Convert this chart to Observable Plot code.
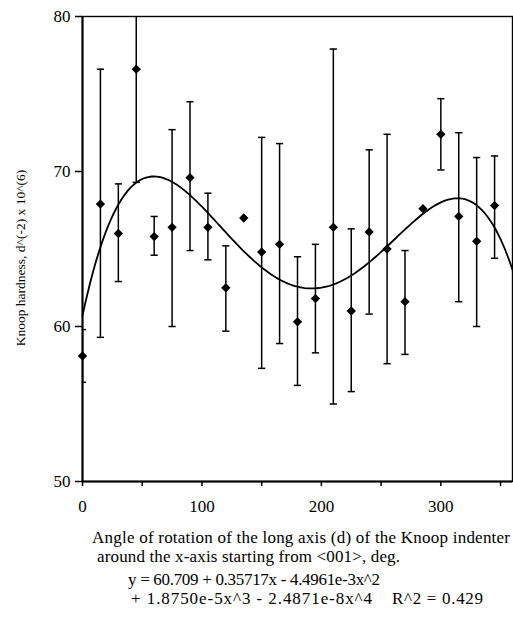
<!DOCTYPE html>
<html>
<head>
<meta charset="utf-8">
<script src="https://cdn.jsdelivr.net/npm/d3@7"></script>
<script src="https://cdn.jsdelivr.net/npm/@observablehq/plot@0.6"></script>
<style>
  html, body { margin: 0; padding: 0; background: #fff; }
  #wrap { width: 513px; height: 620px; background: #fff; overflow: hidden; }
  #wrap svg { display: block; }
</style>
</head>
<body>
<div id="wrap"></div>
<script>
// Measurement angles (deg)
const angles = [0, 15, 30, 45, 60, 75, 90, 105, 120, 135, 150, 165, 180, 195, 210, 225, 240, 255, 270, 285, 300, 315, 330, 345];
// Mean Knoop hardness
const hardness = [58.1, 67.9, 66.0, 76.6, 65.8, 66.4, 69.6, 66.4, 62.5, 67.0, 64.8, 65.3, 60.3, 61.8, 66.4, 61.0, 66.1, 65.0, 61.6, 67.6, 72.4, 67.1, 65.5, 67.8];
// Error bar lower / upper limits (null = no bar)
const errLow  = [56.4, 59.3, 62.9, 69.3, 64.6, 60.0, 64.9, 64.3, 59.7, null, 57.3, 58.9, 56.2, 58.3, 55.0, 55.8, 60.8, 57.6, 58.2, null, 70.1, 61.6, 60.0, 64.4];
const errHigh = [59.8, 76.6, 69.2, 83.9, 67.1, 72.7, 74.5, 68.6, 65.2, null, 72.2, 71.8, 64.5, 65.3, 77.9, 66.3, 71.4, 72.4, 64.9, null, 74.7, 72.5, 70.9, 71.0];
// Fitted 4th-order polynomial coefficients (from the chart's equation)
const fitCoefficients = [60.709, 0.35717, -4.4961e-3, 1.8750e-5, -2.4871e-8];
// Axis ticks
const xLabelTicks = [0, 100, 200, 300];
const xMinorTicks = [50, 150, 250, 350];
const yTicks = [50, 60, 70, 80];
// Texts
const yLabel = "Knoop hardness, d^(-2) x 10^(6)";
const xLabelLines = ["Angle of rotation of the long axis (d) of the Knoop indenter", "around the x-axis starting from <001>, deg."];
const equationLines = ["y = 60.709 + 0.35717x - 4.4961e-3x^2", "+ 1.8750e-5x^3 - 2.4871e-8x^4", "R^2 = 0.429"];

const serif = "'Liberation Serif', 'Times New Roman', serif";
const points = angles.map((a, i) => ({x: a, y: hardness[i], lo: errLow[i], hi: errHigh[i]}));
const bars = points.filter(d => d.lo != null);
const curve = d3.range(0, 360.001, 2).map(x => ({
  x, y: fitCoefficients.reduce((s, c, k) => s + c * Math.pow(x, k), 0)
}));

const capSymbol = {
  draw(ctx, size) {
    const r = Math.sqrt(size / Math.PI);
    ctx.moveTo(-r, 0);
    ctx.lineTo(r, 0);
  }
};

const chart = Plot.plot({
  width: 513,
  height: 520,
  marginLeft: 82,
  marginRight: 1,
  marginTop: 16,
  marginBottom: 39,
  style: {fontFamily: serif, fontSize: "17px", color: "#000", background: "#fff"},
  x: {domain: [0, 360]},
  y: {domain: [50, 80]},
  marks: [
    Plot.axisX({ticks: xMinorTicks, tickSize: 5, tickFormat: () => "", label: null, strokeWidth: 1.5}),
    Plot.axisX({ticks: xLabelTicks, tickSize: 5, tickPadding: 13, label: null, strokeWidth: 1.5, fontFamily: serif, fontSize: 17}),
    Plot.axisY({ticks: yTicks, tickSize: 7, tickPadding: 5, label: null, strokeWidth: 1.5, fontFamily: serif, fontSize: 17}),
    Plot.frame({stroke: "#000", strokeWidth: 1.4}),
    Plot.ruleX([0], {stroke: "#000", strokeWidth: 2}),
    Plot.ruleY([50], {stroke: "#000", strokeWidth: 2}),
    Plot.ruleX(bars, {x: "x", y1: "lo", y2: "hi", stroke: "#000", strokeWidth: 1.5, clip: true}),
    Plot.dot(bars, {x: "x", y: "lo", symbol: capSymbol, r: 3.6, stroke: "#000", strokeWidth: 1.5, fill: "none", clip: true}),
    Plot.dot(bars, {x: "x", y: "hi", symbol: capSymbol, r: 3.6, stroke: "#000", strokeWidth: 1.5, fill: "none", clip: true}),
    Plot.line(curve, {x: "x", y: "y", stroke: "#000", strokeWidth: 1.8}),
    Plot.dot(points, {x: "x", y: "y", symbol: "diamond2", r: 4.2, fill: "#000", stroke: "none"}),
    Plot.text([yLabel], {frameAnchor: "left", rotate: -90, dx: -62, dy: 9, fontSize: 13.5, fontFamily: serif, textAnchor: "middle", lineAnchor: "middle", fill: "#000"})
  ]
});
const wrap = document.getElementById("wrap");
wrap.appendChild(chart);

// Caption block below the plot (axis title + fit equation)
const cap = d3.create("svg").attr("width", 513).attr("height", 100)
  .attr("font-family", serif).attr("font-size", 17).attr("fill", "#000");
const capLines = [
  {text: xLabelLines[0], x: 92, y: 23, len: 418},
  {text: xLabelLines[1], x: 97, y: 42, len: 303},
  {text: equationLines[0], x: 128, y: 65, len: 252},
  {text: equationLines[1], x: 131, y: 84, len: 241},
  {text: equationLines[2], x: 392, y: 84, len: 91}
];
cap.selectAll("text").data(capLines).join("text")
  .attr("x", d => d.x).attr("y", d => d.y)
  .attr("textLength", d => d.len).attr("lengthAdjust", "spacing")
  .text(d => d.text);
wrap.appendChild(cap.node());
</script>
</body>
</html>
